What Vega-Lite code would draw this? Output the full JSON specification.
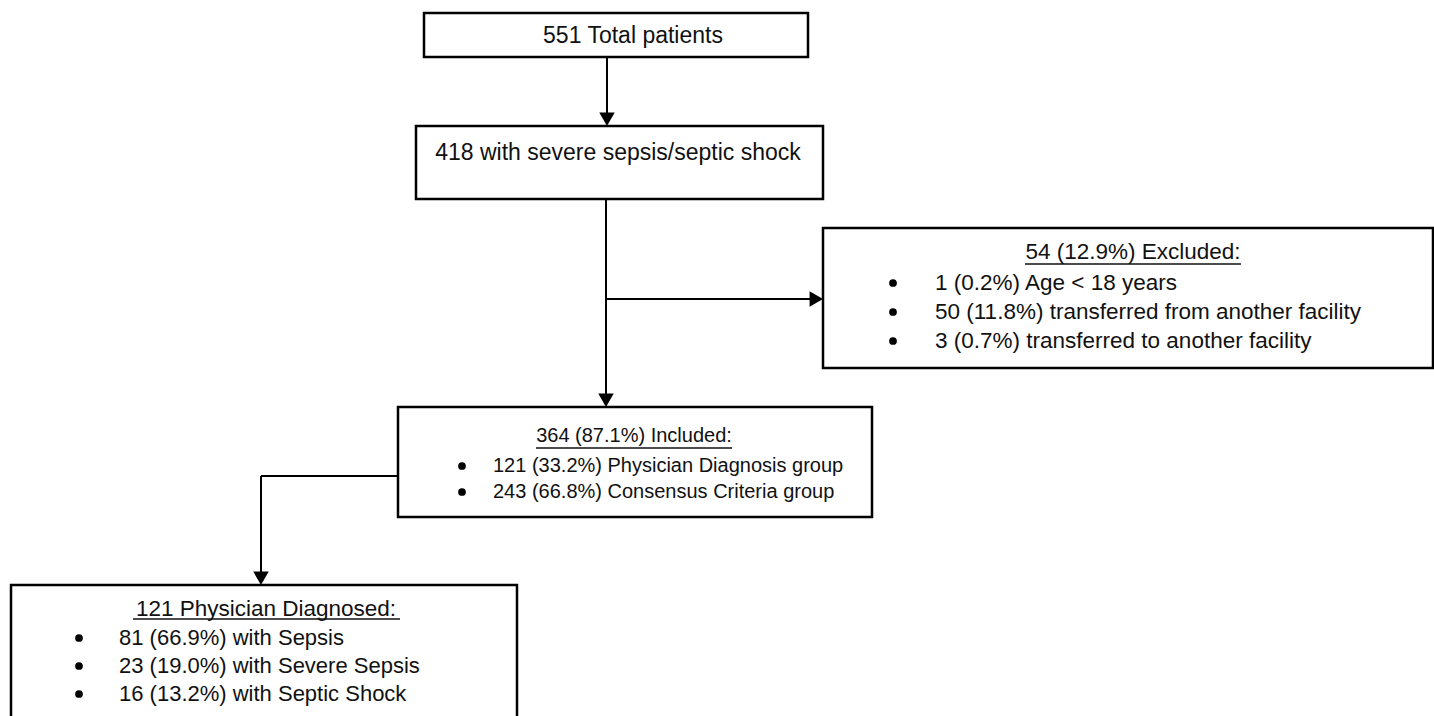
{
  "$schema": "https://vega.github.io/schema/vega-lite/v6.json",
  "width": 1434,
  "height": 716,
  "autosize": {"type": "fit", "contains": "padding"},
  "padding": 0,
  "background": "white",
  "config": {"view": {"stroke": null}, "text": {"font": "Liberation Sans"}},
  "datasets": {
    "boxes": [
      {"box": "total", "x1": 424, "x2": 808, "y1": 13, "y2": 57},
      {"box": "severe", "x1": 416, "x2": 823, "y1": 126, "y2": 199},
      {"box": "excluded", "x1": 823, "x2": 1433, "y1": 228, "y2": 368},
      {"box": "included", "x1": 398, "x2": 872, "y1": 407, "y2": 517},
      {"box": "physician", "x1": 11, "x2": 517, "y1": 585, "y2": 740}
    ],
    "lines": [
      {"x1": 607, "y1": 57, "x2": 607, "y2": 120},
      {"x1": 606, "y1": 199, "x2": 606, "y2": 401},
      {"x1": 606, "y1": 299, "x2": 817, "y2": 299},
      {"x1": 398, "y1": 476, "x2": 261, "y2": 476},
      {"x1": 261, "y1": 476, "x2": 261, "y2": 579}
    ],
    "arrowsDown": [
      {"x": 607, "y": 126},
      {"x": 606, "y": 407},
      {"x": 261, "y": 585}
    ],
    "arrowsRight": [
      {"x": 823, "y": 299}
    ],
    "titles": [
      {"label": "551 Total patients", "x": 633, "y": 36, "fs": 23},
      {"label": "418 with severe sepsis/septic shock", "x": 618, "y": 153, "fs": 23}
    ],
    "headers": [
      {"label": "54 (12.9%) Excluded:", "x": 1133, "y": 252, "fs": 22.5},
      {"label": "364 (87.1%) Included:", "x": 634, "y": 436, "fs": 20},
      {"label": "121 Physician Diagnosed:", "x": 266, "y": 609, "fs": 22.5}
    ],
    "underlines": [
      {"x1": 1025, "x2": 1241, "y": 264},
      {"x1": 536, "x2": 732, "y": 448},
      {"x1": 133, "x2": 400, "y": 619}
    ],
    "items": [
      {"label": "1 (0.2%) Age < 18 years", "bx": 893, "x": 935, "y": 283, "fs": 22.5},
      {"label": "50 (11.8%) transferred from another facility", "bx": 893, "x": 935, "y": 312, "fs": 22.5},
      {"label": "3 (0.7%) transferred to another facility", "bx": 893, "x": 935, "y": 341, "fs": 22.5},
      {"label": "121 (33.2%) Physician Diagnosis group", "bx": 462, "x": 493, "y": 466, "fs": 20},
      {"label": "243 (66.8%) Consensus Criteria group", "bx": 462, "x": 493, "y": 492, "fs": 20},
      {"label": "81 (66.9%) with Sepsis", "bx": 79, "x": 119, "y": 638, "fs": 22},
      {"label": "23 (19.0%) with Severe Sepsis", "bx": 79, "x": 119, "y": 666, "fs": 22},
      {"label": "16 (13.2%) with Septic Shock", "bx": 79, "x": 119, "y": 694, "fs": 22}
    ]
  },
  "layer": [
    {
      "data": {"name": "boxes"},
      "mark": {"type": "rect", "fill": "white", "stroke": "black", "strokeWidth": 2.5, "clip": true},
      "encoding": {
        "x": {"field": "x1", "type": "quantitative", "scale": {"domain": [0, 1434], "nice": false, "zero": false}, "axis": null},
        "x2": {"field": "x2"},
        "y": {"field": "y1", "type": "quantitative", "scale": {"domain": [0, 716], "nice": false, "zero": false, "reverse": true}, "axis": null},
        "y2": {"field": "y2"}
      }
    },
    {
      "data": {"name": "lines"},
      "mark": {"type": "rule", "color": "black", "strokeWidth": 2},
      "encoding": {
        "x": {"field": "x1", "type": "quantitative"},
        "x2": {"field": "x2"},
        "y": {"field": "y1", "type": "quantitative"},
        "y2": {"field": "y2"}
      }
    },
    {
      "data": {"name": "arrowsDown"},
      "mark": {"type": "point", "shape": "triangle-down", "filled": true, "color": "black", "opacity": 1, "size": 240, "yOffset": -6.7},
      "encoding": {
        "x": {"field": "x", "type": "quantitative"},
        "y": {"field": "y", "type": "quantitative"}
      }
    },
    {
      "data": {"name": "arrowsRight"},
      "mark": {"type": "point", "shape": "triangle-right", "filled": true, "color": "black", "opacity": 1, "size": 240, "xOffset": -6.7},
      "encoding": {
        "x": {"field": "x", "type": "quantitative"},
        "y": {"field": "y", "type": "quantitative"}
      }
    },
    {
      "data": {"name": "titles"},
      "mark": {"type": "text", "align": "center", "baseline": "middle", "color": "#111"},
      "encoding": {
        "x": {"field": "x", "type": "quantitative"},
        "y": {"field": "y", "type": "quantitative"},
        "text": {"field": "label"},
        "size": {"field": "fs", "type": "quantitative", "scale": null}
      }
    },
    {
      "data": {"name": "headers"},
      "mark": {"type": "text", "align": "center", "baseline": "middle", "color": "#111"},
      "encoding": {
        "x": {"field": "x", "type": "quantitative"},
        "y": {"field": "y", "type": "quantitative"},
        "text": {"field": "label"},
        "size": {"field": "fs", "type": "quantitative", "scale": null}
      }
    },
    {
      "data": {"name": "underlines"},
      "mark": {"type": "rule", "color": "#111", "strokeWidth": 1.5},
      "encoding": {
        "x": {"field": "x1", "type": "quantitative"},
        "x2": {"field": "x2"},
        "y": {"field": "y", "type": "quantitative"}
      }
    },
    {
      "data": {"name": "items"},
      "mark": {"type": "point", "shape": "circle", "filled": true, "color": "black", "opacity": 1, "size": 60},
      "encoding": {
        "x": {"field": "bx", "type": "quantitative"},
        "y": {"field": "y", "type": "quantitative"}
      }
    },
    {
      "data": {"name": "items"},
      "mark": {"type": "text", "align": "left", "baseline": "middle", "color": "#111"},
      "encoding": {
        "x": {"field": "x", "type": "quantitative"},
        "y": {"field": "y", "type": "quantitative"},
        "text": {"field": "label"},
        "size": {"field": "fs", "type": "quantitative", "scale": null}
      }
    }
  ]
}
